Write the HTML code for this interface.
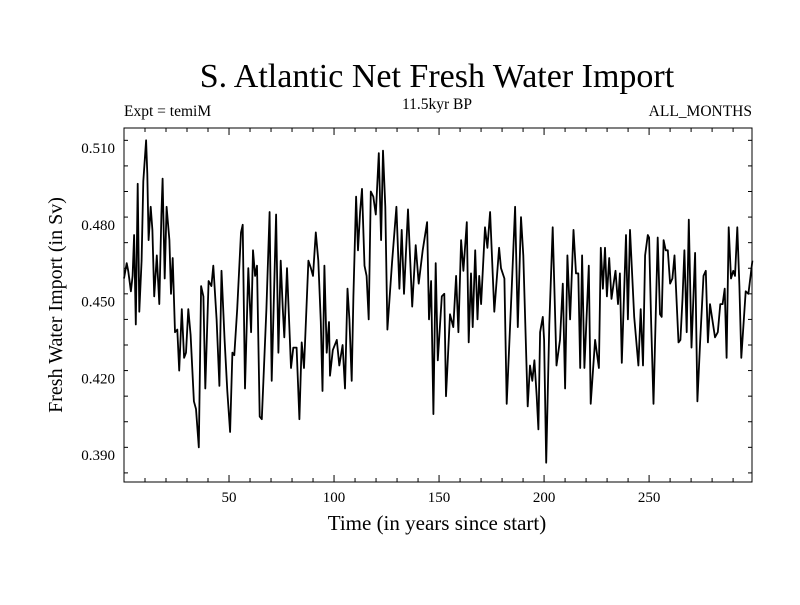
<!DOCTYPE html>
<html><head><meta charset="utf-8"><style>
body{margin:0;background:#fff;}
svg text{font-family:"Liberation Serif",serif;fill:#000;}
</style></head><body>
<svg id="chart" width="800" height="600" xmlns="http://www.w3.org/2000/svg">
<rect width="800" height="600" fill="#fff"/>
<text x="437" y="87" font-size="34" text-anchor="middle">S. Atlantic Net Fresh Water Import</text>
<text x="124" y="116" font-size="15.5">Expt = temiM</text>
<text x="437" y="109" font-size="15.5" text-anchor="middle">11.5kyr BP</text>
<text x="752" y="116" font-size="15.5" text-anchor="end">ALL_MONTHS</text>
<text x="437" y="530" font-size="21" text-anchor="middle">Time (in years since start)</text>
<text transform="translate(62,305) rotate(-90)" font-size="20" text-anchor="middle">Fresh Water Import (in Sv)</text>
<g id="ticks"></g>
<path id="series" fill="none" stroke="#000" stroke-width="1.8" stroke-linejoin="round"/>
<rect x="124" y="128" width="628" height="354" fill="none" stroke="#000" stroke-width="1"/>
</svg>
<script>
const years=[0,1.3,2,3.3,4.1,4.8,5.6,6.5,7.3,8.4,9.2,10.5,11.1,11.7,12.7,13.5,14.4,15.6,16.8,17.8,18.4,19.4,20.3,21.6,22.4,23.2,24.3,25.4,26.3,27.5,28.6,29.5,30.6,31.7,33.3,34.3,35.6,36.7,37.8,38.7,40.3,41.6,42.5,44.1,45.4,46.4,47.9,49.2,
50.5,51.6,52.5,53.9,55.7,56.5,57.6,59.2,60.5,61.4,62.4,63.3,64.6,65.6,67.8,69.3,70.3,72.4,73.5,74.6,75.6,76.3,77.6,79.5,80.6,82.2,83.5,84.6,85.7,87.8,89,90,91.3,92.5,93.7,94.5,95.4,96.5,97.6,
98.1,99.4,101.3,102.5,104.1,105.2,106.4,107.3,108.4,109.2,110.5,111.4,112.4,113.3,114.5,115.5,116.5,117.5,118.7,119.9,121.3,122.4,123.3,124.4,125.4,127.6,129.7,131.1,132.2,133.3,135.2,137.2,138.9,140.3,142.2,144.3,145.2,146.2,147.3,148.4,
149.4,151.3,152.5,153.3,155.2,156.8,158.1,159.2,160.5,161.6,163.2,164.1,165.2,166,167.2,168.3,169.1,170,171.9,173,174.3,176.3,178.6,179.5,181.1,182.2,184.6,186.2,187.5,189,190.1,192.2,193.3,194.4,195.4,196.5,197.3,
198.1,199.4,200,201,202.5,204.1,205.9,207.6,208.9,210,211.1,212.4,214,215.2,216.3,217.2,218.1,219.2,221.3,222.2,224.3,226.1,227,228,229,229.9,231,232.1,233.1,234,235.2,236.1,237,239,239.9,240.9,242.9,244.9,246,247.1,
248.1,249.4,250,251,252.1,254.1,255.2,256,256.9,257.9,258.9,260,261.1,262.1,264,264.9,265.9,266.8,267.9,268.9,270.2,271.9,273,274.3,275.9,277,278,279,281.4,282.7,283.9,285,286,286.9,287.9,289,290.1,290.9,292,293,293.9,296,297.3,299.2];
const values=[0.459,0.465,0.462,0.454,0.460,0.476,0.441,0.496,0.446,0.466,0.497,0.513,0.500,0.474,0.487,0.478,0.452,0.468,0.449,0.484,0.498,0.459,0.487,0.474,0.453,0.467,0.438,0.439,0.423,0.447,0.428,0.430,0.447,0.437,0.411,0.408,0.393,0.456,0.452,0.416,0.458,0.456,0.464,0.443,0.417,0.462,0.435,0.415,
0.399,0.430,0.429,0.447,0.477,0.480,0.416,0.463,0.438,0.470,0.460,0.464,0.405,0.404,0.447,0.485,0.419,0.484,0.430,0.466,0.447,0.436,0.463,0.424,0.432,0.432,0.404,0.434,0.424,0.466,0.463,0.460,0.477,0.466,0.442,0.415,0.464,0.430,0.442,
0.421,0.431,0.435,0.425,0.433,0.416,0.455,0.443,0.419,0.452,0.491,0.470,0.485,0.494,0.464,0.460,0.443,0.493,0.491,0.484,0.508,0.474,0.509,0.487,0.439,0.465,0.487,0.455,0.478,0.453,0.486,0.448,0.472,0.457,0.470,0.481,0.443,0.458,0.406,0.465,
0.427,0.452,0.453,0.413,0.445,0.440,0.460,0.438,0.474,0.462,0.481,0.434,0.461,0.440,0.470,0.443,0.460,0.449,0.479,0.471,0.485,0.446,0.471,0.463,0.459,0.410,0.455,0.487,0.440,0.483,0.468,0.409,0.425,0.419,0.427,0.413,0.400,
0.438,0.444,0.435,0.387,0.441,0.479,0.425,0.435,0.457,0.416,0.468,0.443,0.478,0.461,0.461,0.424,0.468,0.424,0.464,0.410,0.435,0.424,0.471,0.455,0.471,0.452,0.467,0.451,0.457,0.462,0.449,0.461,0.426,0.476,0.443,0.478,0.444,0.425,0.447,0.425,
0.468,0.476,0.475,0.441,0.410,0.475,0.445,0.444,0.474,0.470,0.470,0.457,0.459,0.468,0.434,0.435,0.451,0.470,0.438,0.482,0.432,0.469,0.411,0.434,0.460,0.462,0.434,0.449,0.436,0.438,0.449,0.449,0.455,0.428,0.479,0.459,0.462,0.460,0.479,0.456,0.428,0.454,0.453,0.466];
const xTicks=[50,100,150,200,250];
const yTicks=[0.390,0.420,0.450,0.480,0.510];
const X0=124,X1=752,Y0=128,Y1=482;
const xs=v=>X0+(v-0)/(299-0)*(X1-X0);
const ys=v=>148+(0.510-v)/(0.510-0.390)*(455-148);
const ns='http://www.w3.org/2000/svg';
const g=document.getElementById('ticks');
function line(x1,y1,x2,y2,name){const l=document.createElementNS(ns,'line');
l.setAttribute('x1',x1);l.setAttribute('y1',y1);l.setAttribute('x2',x2);l.setAttribute('y2',y2);l.setAttribute('stroke','#000');l.setAttribute('stroke-width','1');


g.appendChild(l);}
function txt(x,y,s,anchor,name){const t=document.createElementNS(ns,'text');t.setAttribute('x',x);t.setAttribute('y',y);t.setAttribute('font-size','15');t.setAttribute('text-anchor',anchor);t.textContent=s;


g.appendChild(t);}
for(let v=10;v<299;v+=10){const x=xs(v);const L=(v%50===0)?7:4;line(x,Y1,x,Y1-L,'x-tick');line(x,Y0,x,Y0+L,'x-tick-top');}
for(let k=0;k<=13;k++){const v=0.383+k*0.01;const y=ys(v);if(y<Y0||y>Y1)continue;const major=yTicks.some(t=>Math.abs(t-v)<1e-6);const L=major?7:4;line(X0,y,X0+L,y,'y-tick');line(X1,y,X1-L,y,'y-tick-right');}
xTicks.forEach(v=>txt(xs(v),502,String(v),'middle','x-tick-label'));
yTicks.forEach(v=>txt(X0-9,ys(v)+5,v.toFixed(3),'end','y-tick-label'));
document.getElementById('series').setAttribute('d',years.map((yr,i)=>(i?'L':'M')+xs(yr).toFixed(1)+' '+ys(values[i]).toFixed(1)).join(''));
</script>
</body></html>
